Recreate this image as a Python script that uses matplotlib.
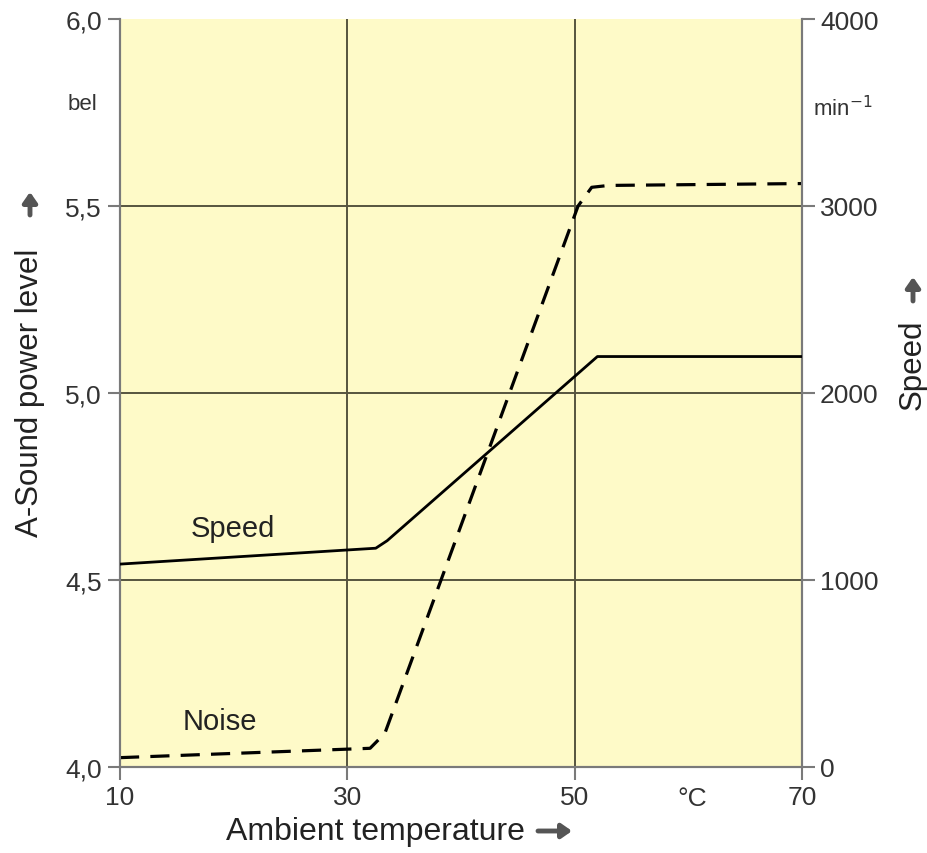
import matplotlib

matplotlib.use("Agg")
import matplotlib.pyplot as plt  # noqa: E402

# Noise (left axis, bel) vs ambient temperature
noise_temp = [10, 32.0, 33.3, 50.3, 51.5, 53.0, 70]
noise_bel = [4.025, 4.05, 4.09, 5.50, 5.55, 5.555, 5.56]

# Speed (right axis, min^-1) vs ambient temperature
speed_temp = [10, 32.5, 33.5, 52.0, 70]
speed_rpm = [1085, 1170, 1210, 2195, 2195]

x_ticks = [10, 30, 50, 70]
left_ticks = [4.0, 4.5, 5.0, 5.5, 6.0]
right_ticks = [0, 1000, 2000, 3000, 4000]

plt.rcParams["font.family"] = ["Liberation Sans", "DejaVu Sans"]

W, H = 928, 854
fig = plt.figure(figsize=(W / 100, H / 100), dpi=100)
ax = fig.add_axes([120 / W, 1 - 768 / H, 682 / W, 748 / H])
ax2 = ax.twinx()

ax.set_facecolor("#fefac8")
ax.set_xlim(10, 70)
ax.set_ylim(4.0, 6.0)
ax2.set_ylim(0, 4000)

grid_col = "#56543f"
for x in [30, 50]:
    ax.axvline(x, color=grid_col, lw=1.4, zorder=1)
for y in [4.5, 5.0, 5.5]:
    ax.axhline(y, color=grid_col, lw=1.4, zorder=1)

ax.plot(noise_temp, noise_bel, color="black", lw=2.3, dashes=(6, 3.5),
        solid_joinstyle="round", zorder=3)
ax2.plot(speed_temp, speed_rpm, color="black", lw=2.0, zorder=3)

spine_col = "#7a7a7a"
for a in (ax, ax2):
    for side in ("left", "right", "bottom"):
        a.spines[side].set_color(spine_col)
        a.spines[side].set_linewidth(1.5)
    a.spines["top"].set_visible(False)

tick_kw = dict(length=9, width=1.5, color=spine_col, labelcolor="#333333",
               labelsize=19, pad=4)
ax.set_xticks(x_ticks)
ax.set_xticklabels([str(t) for t in x_ticks])
ax.set_yticks(left_ticks)
ax.set_yticklabels([f"{t:.1f}".replace(".", ",") for t in left_ticks])
ax.tick_params(axis="both", **tick_kw)
ax2.set_yticks(right_ticks)
ax2.set_yticklabels([str(t) for t in right_ticks])
ax2.tick_params(axis="y", **tick_kw)

text_col = "#222222"
# units
fig.text(82 / W, 1 - 104 / H, "bel", fontsize=16,
         color="#333333", ha="center", va="center")
fig.text(843 / W, 1 - 109 / H, "min$^{-1}$", fontsize=16,
         color="#333333", ha="center", va="center")
fig.text(692 / W, 1 - 799 / H, "°C", fontsize=19,
         color="#333333", ha="center", va="center")

# curve labels
ax.text(0.165, 0.320, "Speed", transform=ax.transAxes, fontsize=21,
        color=text_col, ha="center", va="center")
ax.text(0.147, 0.061, "Noise", transform=ax.transAxes, fontsize=21,
        color=text_col, ha="center", va="center")

# axis titles
fig.text(226 / W, 1 - 832 / H, "Ambient temperature", fontsize=23,
         color=text_col, ha="left", va="center")
fig.text(30 / W, 1 - 393 / H, "A-Sound power level", fontsize=22.5,
         color=text_col, ha="center", va="center", rotation=90)
fig.text(913 / W, 1 - 365 / H, "Speed", fontsize=22.5,
         color=text_col, ha="center", va="center", rotation=90)

arrow_kw = dict(arrowstyle="-|>,head_length=0.5,head_width=0.35",
                color="#555555", lw=3.5, shrinkA=0, shrinkB=0)
fig.add_artist(matplotlib.patches.FancyArrowPatch(
    (538 / W, 1 - 832 / H), (572 / W, 1 - 832 / H),
    transform=fig.transFigure, mutation_scale=12, **arrow_kw))
fig.add_artist(matplotlib.patches.FancyArrowPatch(
    (30 / W, 1 - 216 / H), (30 / W, 1 - 193 / H),
    transform=fig.transFigure, mutation_scale=12, **arrow_kw))
fig.add_artist(matplotlib.patches.FancyArrowPatch(
    (913 / W, 1 - 302 / H), (913 / W, 1 - 278 / H),
    transform=fig.transFigure, mutation_scale=12, **arrow_kw))

fig.savefig("out.png", dpi=100)
